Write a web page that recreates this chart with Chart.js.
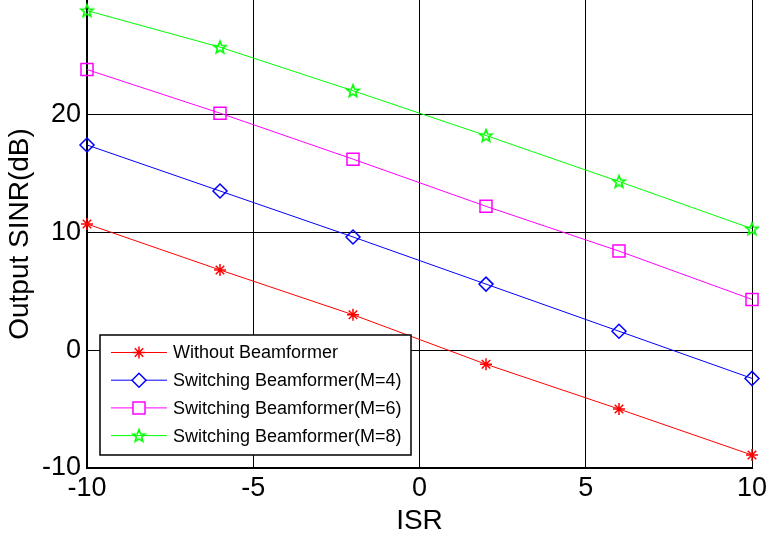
<!DOCTYPE html>
<html>
<head>
<meta charset="utf-8">
<script src="https://cdn.jsdelivr.net/npm/chart.js@4/dist/chart.umd.min.js"></script>
<style>
  html, body { margin: 0; padding: 0; background: #fff; }
  #wrap { width: 772px; height: 538px; }
</style>
</head>
<body>
<div id="wrap"><canvas id="myChart" width="772" height="538"></canvas></div>
<script>
const isr = [-10, -6, -2, 2, 6, 10];
const sinrNoBf = [10.7, 6.8, 3.0, -1.2, -5.0, -8.9];
const sinrM4 = [17.4, 13.5, 9.6, 5.6, 1.6, -2.4];
const sinrM6 = [23.8, 20.1, 16.2, 12.2, 8.4, 4.3];
const sinrM8 = [28.8, 25.7, 22.0, 18.2, 14.3, 10.3];
const seriesNames = ['Without Beamformer', 'Switching Beamformer(M=4)', 'Switching Beamformer(M=6)', 'Switching Beamformer(M=8)'];
const xTicks = [-10, -5, 0, 5, 10];
const yTicks = [-10, 0, 10, 20];

const FONT = "'Liberation Sans', Arial, sans-serif";

// pentagram marker, Chart.js has none
function makePentagram(color) {
    const c = document.createElement('canvas');
    c.width = 16; c.height = 16;
    const g = c.getContext('2d');
    g.strokeStyle = color;
    g.lineWidth = 1.6;
    g.beginPath();
    for (let i = 0; i < 10; i++) {
        const r = i % 2 === 0 ? 6.5 : 2.8;
        const a = -Math.PI / 2 + i * Math.PI / 5;
        const px = 8 + r * Math.cos(a), py = 8.5 + r * Math.sin(a);
        if (i === 0) g.moveTo(px, py); else g.lineTo(px, py);
    }
    g.closePath();
    g.stroke();
    return c;
}
const pentagram = makePentagram('#00ff00');

function toPoints(ys) {
    return isr.map((x, i) => ({ x: x, y: ys[i] }));
}

const styles = [
    { color: '#ff0000', pointStyle: 'star', radius: 6 },
    { color: '#0000ff', pointStyle: 'rectRot', radius: 7 },
    { color: '#ff00ff', pointStyle: 'rect', radius: 8.5 },
    { color: '#00ff00', pointStyle: pentagram, radius: 8 }
];

const allSeries = [sinrNoBf, sinrM4, sinrM6, sinrM8];

const datasets = allSeries.map((ys, i) => ({
    label: seriesNames[i],
    data: toPoints(ys),
    showLine: true,
    borderColor: styles[i].color,
    backgroundColor: 'rgba(0,0,0,0)',
    borderWidth: 1,
    pointStyle: styles[i].pointStyle,
    pointRadius: styles[i].radius,
    pointHoverRadius: styles[i].radius,
    pointBorderColor: styles[i].color,
    pointBorderWidth: 1.5,
    pointBackgroundColor: 'rgba(0,0,0,0)',
    clip: false
}));

// MATLAB style legend: line segment + marker + label inside a box
const boxLegend = {
    id: 'boxLegend',
    afterDraw(chart) {
        const ctx = chart.ctx;
        const left = 100, top = 335, w = 311, h = 120, rowH = 27.7;
        ctx.save();
        ctx.fillStyle = '#fff';
        ctx.fillRect(left, top, w, h);
        ctx.strokeStyle = '#000';
        ctx.lineWidth = 1.5;
        ctx.strokeRect(left, top, w, h);
        ctx.font = '18px ' + FONT;
        ctx.textBaseline = 'middle';
        ctx.textAlign = 'left';
        seriesNames.forEach((name, i) => {
            const y = top + 17.5 + i * rowH;
            ctx.strokeStyle = styles[i].color;
            ctx.lineWidth = 1;
            ctx.beginPath();
            ctx.moveTo(111, y);
            ctx.lineTo(167, y);
            ctx.stroke();
            ctx.lineWidth = 1.5;
            ctx.fillStyle = '#fff';
            Chart.helpers.drawPoint(ctx, {
                pointStyle: styles[i].pointStyle,
                radius: styles[i].radius,
                rotation: 0,
                borderWidth: 1.5
            }, 139, y);
            ctx.fillStyle = '#000';
            ctx.fillText(name, 173, y + 1);
        });
        ctx.restore();
    }
};

const ctx = document.getElementById('myChart');

new Chart(ctx, {
    type: 'scatter',
    data: { datasets: datasets },
    options: {
        responsive: false,
        animation: false,
        layout: { autoPadding: false, padding: { top: 0, right: 20, left: 0, bottom: 0 } },
        plugins: {
            legend: { display: false },
            tooltip: { enabled: false }
        },
        scales: {
            x: {
                type: 'linear',
                min: -10,
                max: 10,
                afterFit: (scale) => { scale.height = 70; },
                afterBuildTicks: (scale) => { scale.ticks = xTicks.map(v => ({ value: v })); },
                ticks: {
                    color: '#000',
                    font: { family: FONT, size: 27 },
                    padding: 4,
                    maxRotation: 0
                },
                grid: { color: '#000', lineWidth: 1, drawTicks: false },
                border: { color: '#000', width: 2 },
                title: {
                    display: true,
                    text: 'ISR',
                    color: '#000',
                    font: { family: FONT, size: 28 },
                    padding: 0
                }
            },
            y: {
                type: 'linear',
                min: -10,
                max: 29.7,
                afterFit: (scale) => {
                    scale.width = 87;
                    scale.paddingTop = 0;
                    scale.paddingBottom = 0;
                },
                afterBuildTicks: (scale) => { scale.ticks = yTicks.map(v => ({ value: v })); },
                ticks: {
                    color: '#000',
                    font: { family: FONT, size: 27 },
                    padding: 6
                },
                grid: { color: '#000', lineWidth: 1, drawTicks: false },
                border: { color: '#000', width: 2 },
                title: {
                    display: true,
                    text: 'Output SINR(dB)',
                    color: '#000',
                    font: { family: FONT, size: 28 },
                    padding: { top: 3, bottom: 0 }
                }
            }
        }
    },
    plugins: [boxLegend]
});
</script>
</body>
</html>
